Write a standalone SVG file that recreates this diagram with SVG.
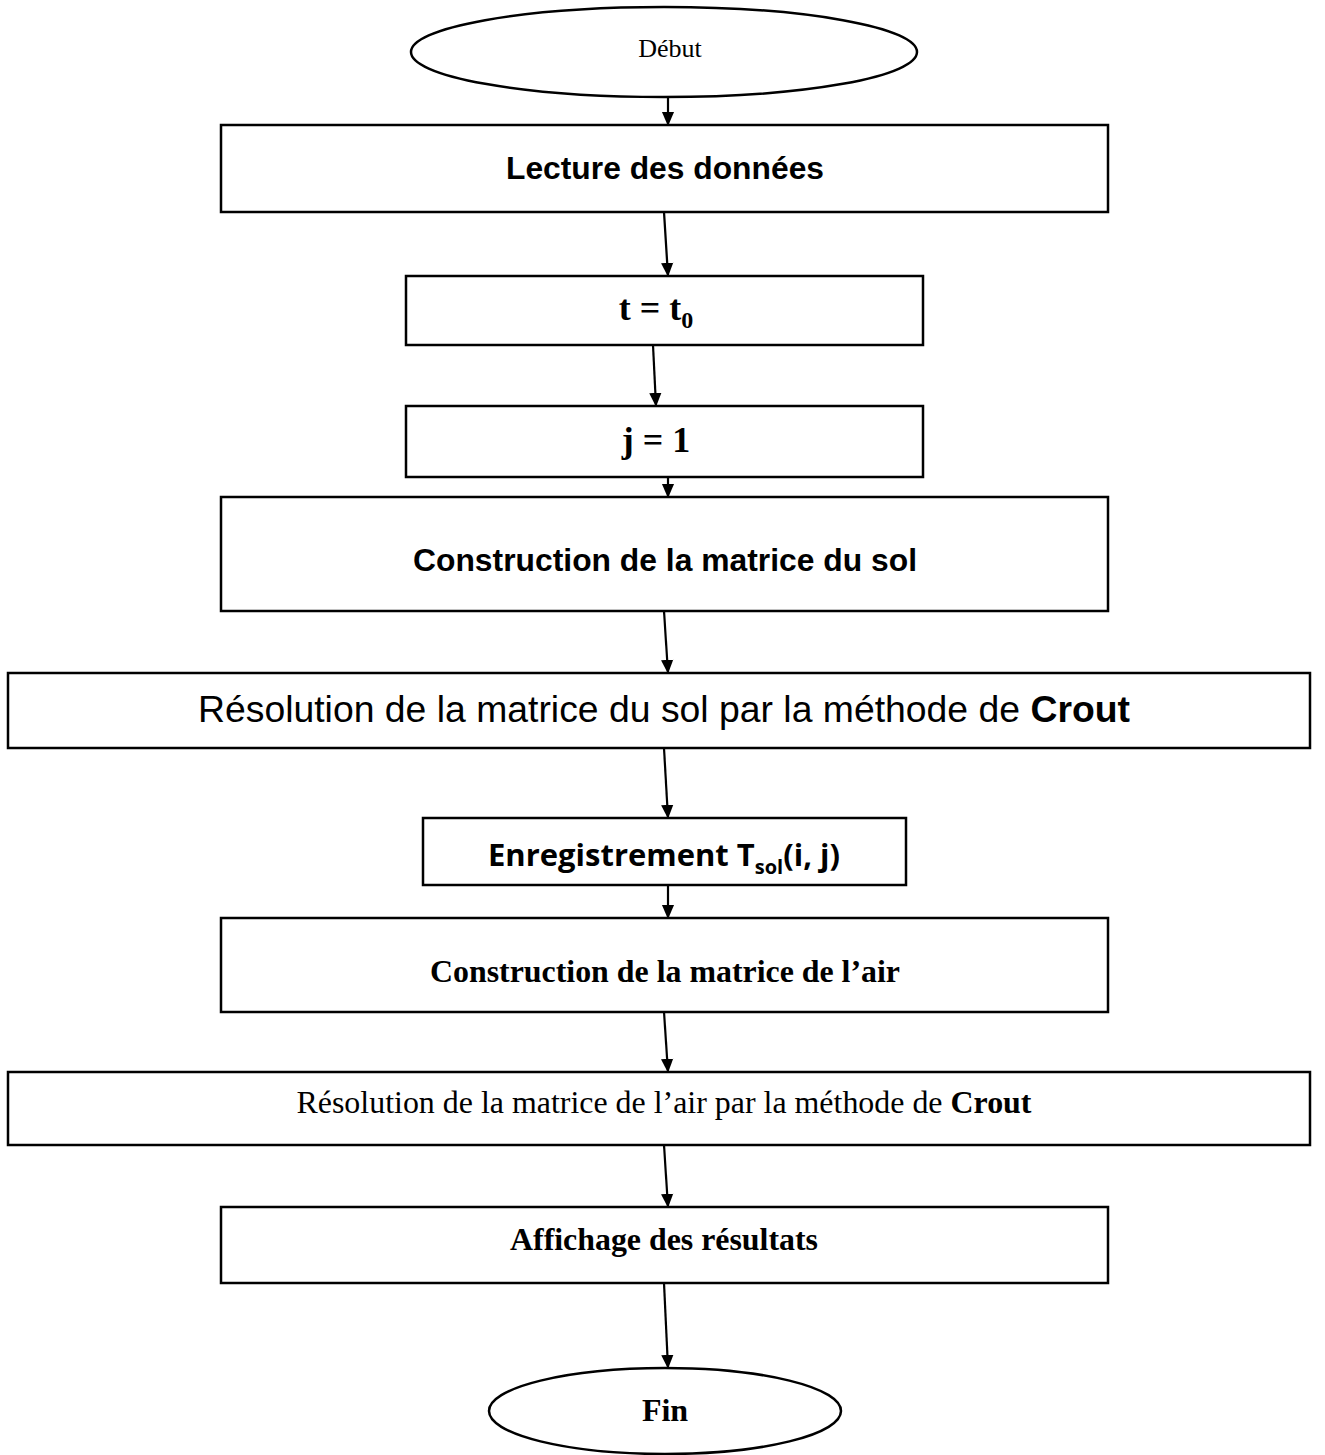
<svg xmlns="http://www.w3.org/2000/svg" width="1325" height="1455" viewBox="0 0 1325 1455">
<style>
.n{fill:#fff;stroke:#000;stroke-width:2.5}
.c line{stroke:#000;stroke-width:2.2}
.sans{font-family:"Liberation Sans",Arial,sans-serif}
.serif{font-family:"Liberation Serif","Times New Roman",serif}
.cal{font-family:"Open Sans","Liberation Sans",sans-serif}
text{fill:#000;text-anchor:middle}
</style>
<defs>
<marker id="ah" markerWidth="14" markerHeight="14" refX="15" refY="7" orient="auto" markerUnits="userSpaceOnUse" viewBox="0 0 16 14">
<path d="M0,0 L16,7 L0,14 z" fill="#000"/>
</marker>
</defs>
<g class="c" id="connectors">
<line x1="668" y1="97" x2="668" y2="125" marker-end="url(#ah)"/>
<line x1="664" y1="212" x2="668" y2="276" marker-end="url(#ah)"/>
<line x1="653" y1="345" x2="656" y2="406" marker-end="url(#ah)"/>
<line x1="668" y1="477" x2="668" y2="497" marker-end="url(#ah)"/>
<line x1="664" y1="611" x2="668" y2="673" marker-end="url(#ah)"/>
<line x1="664" y1="748" x2="668" y2="818" marker-end="url(#ah)"/>
<line x1="668" y1="885" x2="668" y2="918" marker-end="url(#ah)"/>
<line x1="664" y1="1012" x2="668" y2="1072" marker-end="url(#ah)"/>
<line x1="664" y1="1145" x2="668" y2="1207" marker-end="url(#ah)"/>
<line x1="664" y1="1283" x2="668" y2="1368" marker-end="url(#ah)"/>
</g>
<g id="debut"><ellipse class="n" cx="664" cy="52" rx="253" ry="45"/><text class="serif" x="670" y="57" font-size="26">Début</text></g>
<g id="lecture"><rect class="n" x="221" y="125" width="887" height="87"/><text class="sans" x="665" y="179" font-size="32" font-weight="bold" textLength="318" lengthAdjust="spacingAndGlyphs">Lecture des données</text></g>
<g id="t0"><rect class="n" x="406" y="276" width="517" height="69"/><text class="serif" x="656" y="320" font-size="36" font-weight="bold">t = t<tspan font-size="24" dy="8">0</tspan></text></g>
<g id="j1"><rect class="n" x="406" y="406" width="517" height="71"/><text class="serif" x="656" y="452" font-size="36" font-weight="bold">j = 1</text></g>
<g id="constr-sol"><rect class="n" x="221" y="497" width="887" height="114"/><text class="sans" x="665" y="571" font-size="32" font-weight="bold" textLength="504" lengthAdjust="spacingAndGlyphs">Construction de la matrice du sol</text></g>
<g id="resol-sol"><rect class="n" x="8" y="673" width="1302" height="75"/><text class="sans" x="664" y="722" font-size="36" textLength="932" lengthAdjust="spacingAndGlyphs">Résolution de la matrice du sol par la méthode de <tspan font-weight="bold">Crout</tspan></text></g>
<g id="enreg"><rect class="n" x="423" y="818" width="483" height="67"/><text class="cal" x="664" y="866" font-size="31" font-weight="bold" textLength="352" lengthAdjust="spacingAndGlyphs">Enregistrement T<tspan font-size="20" dy="8">sol</tspan><tspan dy="-8">(i, j)</tspan></text></g>
<g id="constr-air"><rect class="n" x="221" y="918" width="887" height="94"/><text class="serif" x="665" y="982" font-size="32" font-weight="bold" textLength="470" lengthAdjust="spacingAndGlyphs">Construction de la matrice de l’air</text></g>
<g id="resol-air"><rect class="n" x="8" y="1072" width="1302" height="73"/><text class="serif" x="664" y="1113" font-size="31" textLength="735" lengthAdjust="spacingAndGlyphs">Résolution de la matrice de l’air par la méthode de <tspan font-weight="bold">Crout</tspan></text></g>
<g id="affichage"><rect class="n" x="221" y="1207" width="887" height="76"/><text class="serif" x="664" y="1250" font-size="32" font-weight="bold" textLength="308" lengthAdjust="spacingAndGlyphs">Affichage des résultats</text></g>
<g id="fin"><ellipse class="n" cx="665" cy="1411" rx="176" ry="43"/><text class="serif" x="665" y="1421" font-size="32" font-weight="bold">Fin</text></g>
</svg>
